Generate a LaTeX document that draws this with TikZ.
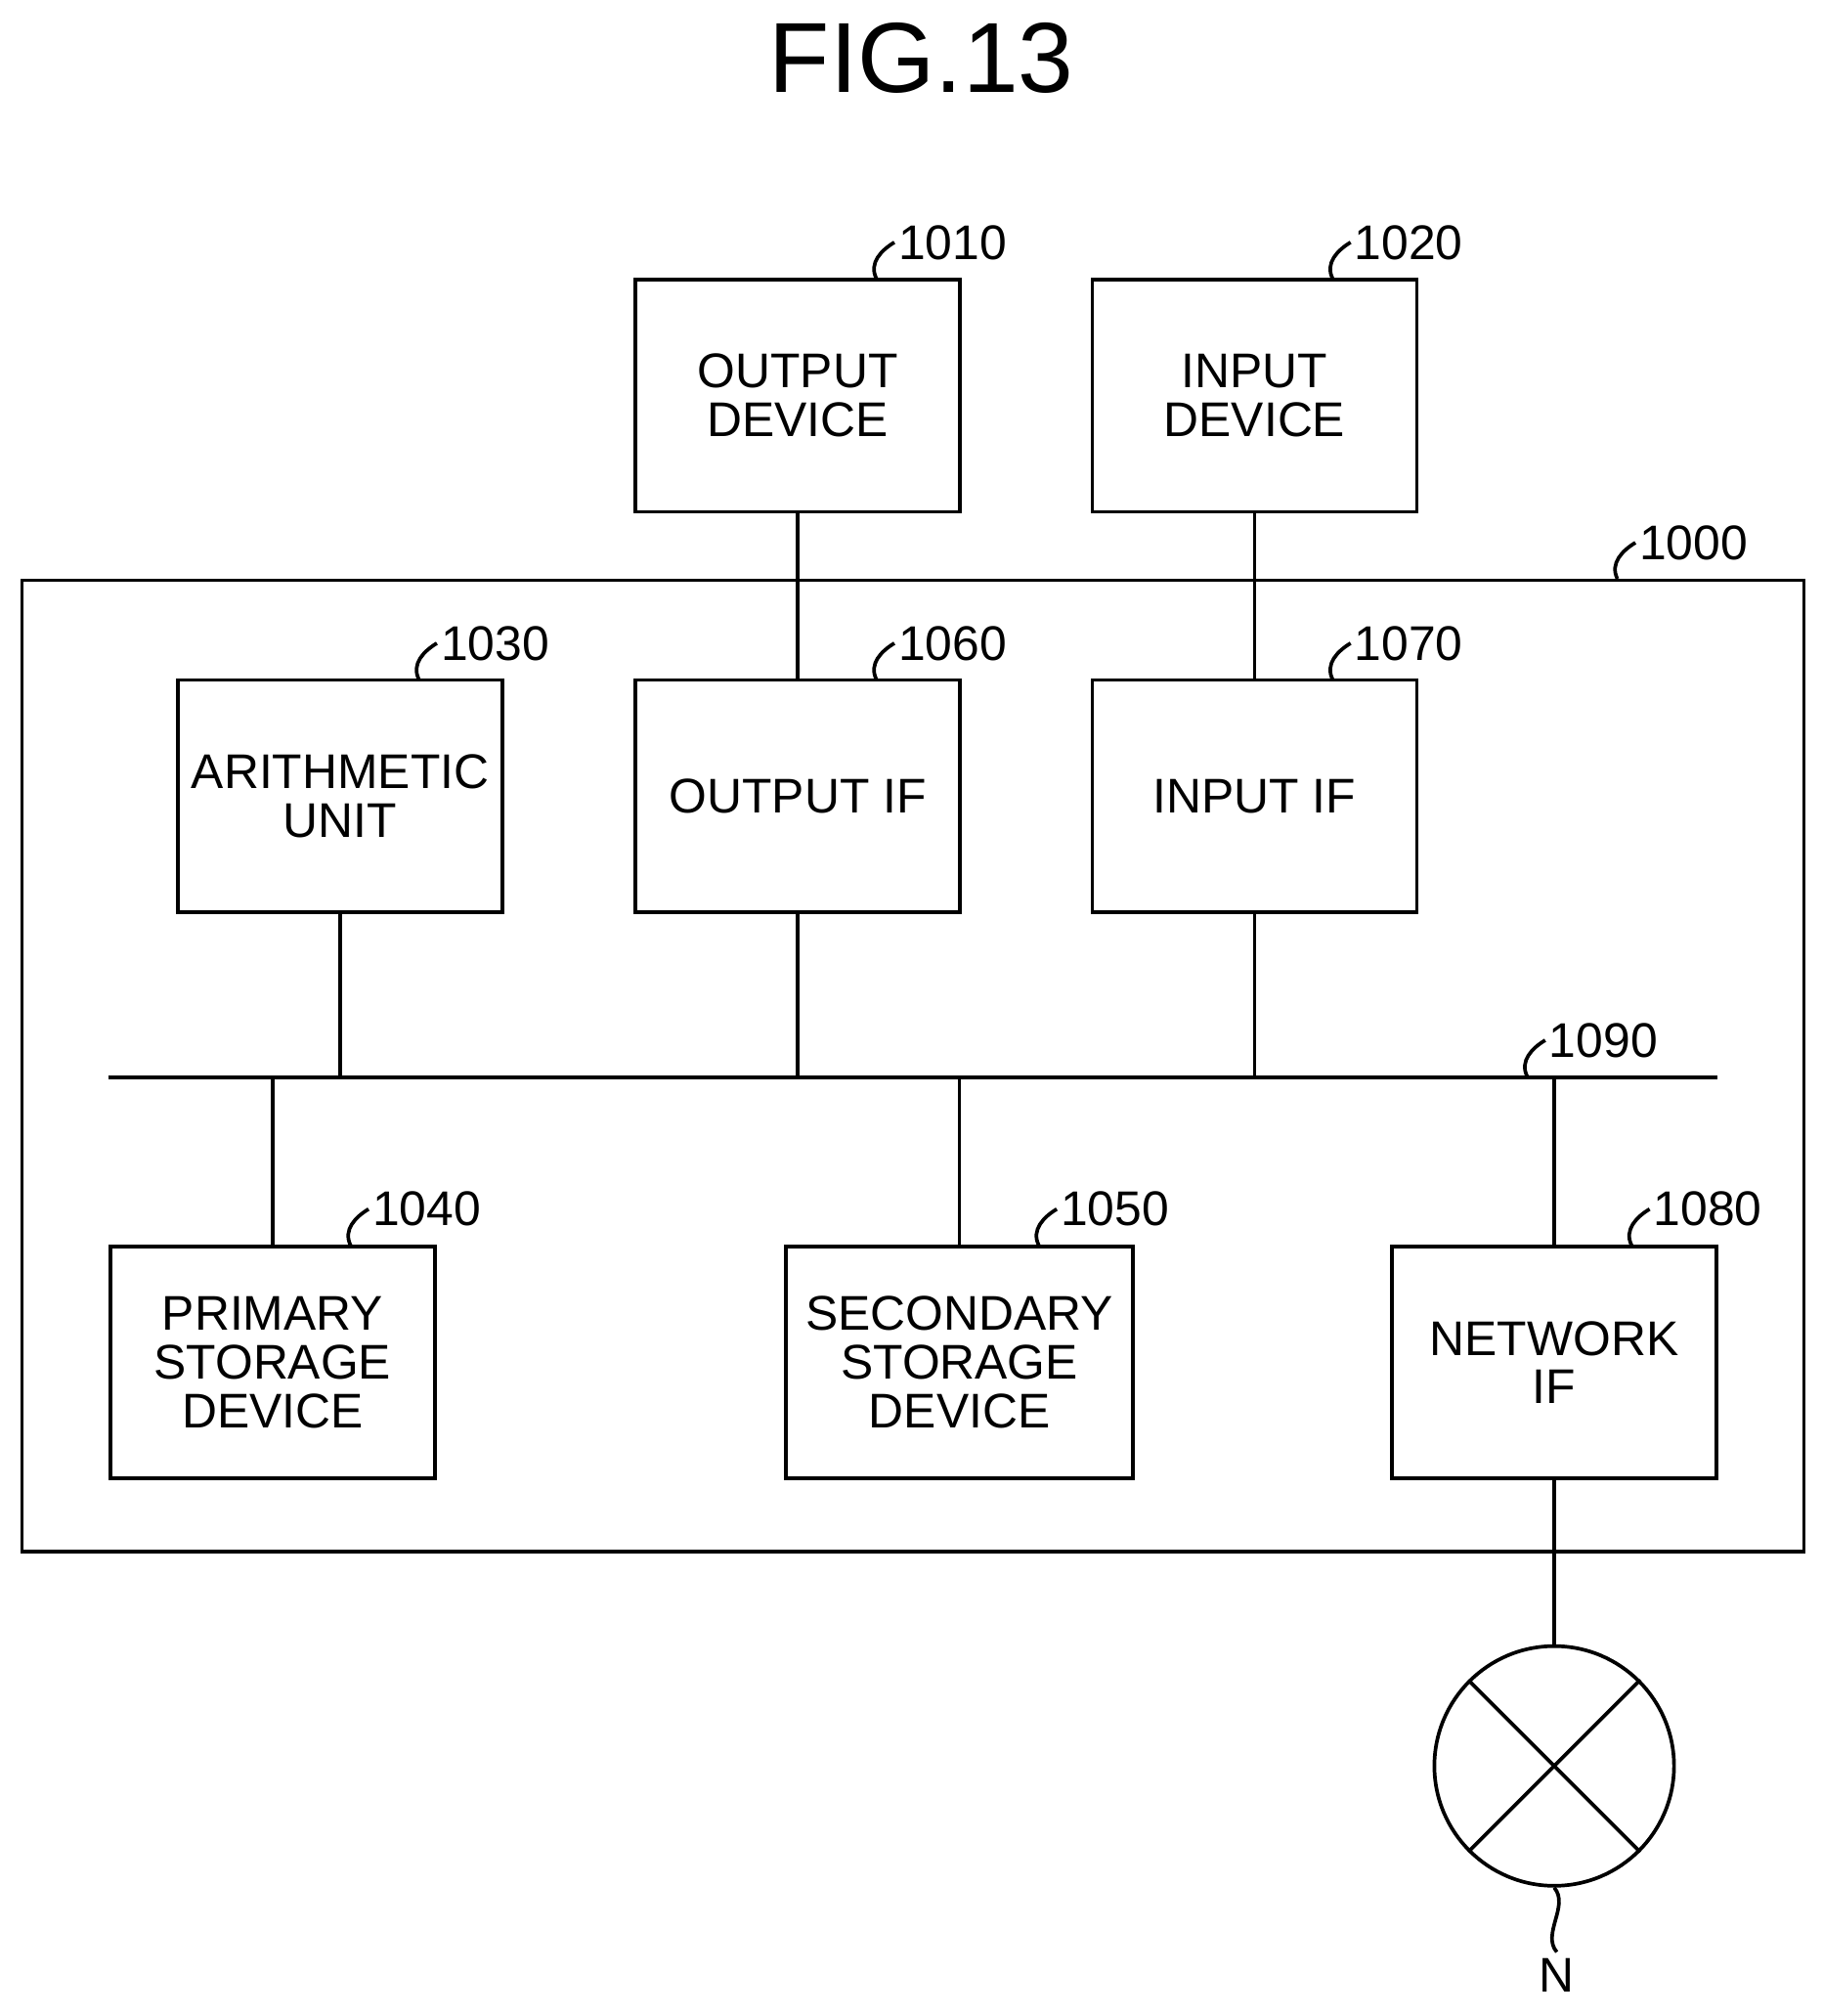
\documentclass[tikz,border=0pt]{standalone}
\usepackage{fontspec}
\setmainfont{Liberation Sans}
\usetikzlibrary{positioning}
\newcommand{\refnum}[2]{\draw (#1) .. controls +(-6,-12) and +(-10,6) .. ++(14,-28) node[anchor=west,inner sep=1pt]{#2};}
\begin{document}
\begin{tikzpicture}[
        x=0.02cm, y=-0.02cm,
        line width=1.6pt,
        every node/.style={font=\fontsize{21.5}{21.5}\selectfont},
        block/.style={draw, line width=1.6pt, minimum width=5.04cm, minimum height=3.6cm, align=center, inner sep=0pt}]
        \useasboundingbox (0,0) rectangle (1414,1564);
        % Title
        \node[font=\fontsize{44}{44}\selectfont] (title) at (715,45) {FIG.13};
        % Outer frame
        \node[draw, line width=1.6pt, minimum width=27.66cm, minimum height=15.08cm, inner sep=0pt] (comp) at (708.5,827) {};
        % Blocks
        \node[block] (outdev) at (619,307) {OUTPUT\\DEVICE};
        \node[block] (indev) at (973.5,307) {INPUT\\DEVICE};
        \node[block] (arith) at (264,617.5) {ARITHMETIC\\UNIT};
        \node[block] (outif) at (619,617.5) {OUTPUT IF};
        \node[block] (inif) at (973.5,617.5) {INPUT IF};
        \node[block] (prim) at (211.5,1057) {PRIMARY\\STORAGE\\DEVICE};
        \node[block, minimum width=5.38cm] (sec) at (744.5,1057) {SECONDARY\\STORAGE\\DEVICE};
        \node[block] (netif) at (1206,1057) {NETWORK\\IF};
        \node[draw, circle, line width=1.6pt, minimum size=3.72cm, inner sep=0pt] (net) at (1206,1370) {};
        % Bus
        \coordinate (busL) at (84,836);
        \coordinate (busR) at (1333,836);
        \draw (busL) -- (busR);
        % Connections
        \draw (outdev) -- (outif);
        \draw (indev) -- (inif);
        \draw (arith.south) -- (arith.south |- busL);
        \draw (outif.south) -- (outif.south |- busL);
        \draw (inif.south) -- (inif.south |- busL);
        \draw (prim.north) -- (prim.north |- busL);
        \draw (sec.north) -- (sec.north |- busL);
        \draw (netif.north) -- (netif.north |- busL);
        \draw (netif) -- (net);
        \draw (net.45) -- (net.225);
        \draw (net.135) -- (net.315);
        % Reference numerals
        \refnum{680,216}{1010}
        \refnum{1034,216}{1020}
        \refnum{1255,449}{1000}
        \refnum{325,527}{1030}
        \refnum{680,527}{1060}
        \refnum{1034,527}{1070}
        \refnum{1185,835}{1090}
        \refnum{272,966}{1040}
        \refnum{806,966}{1050}
        \refnum{1266,966}{1080}
        \draw (net.south) .. controls +(12,14) and +(-12,-14) .. ++(2,50) node[below=2pt, inner sep=0pt] (nlabel) {N};
\end{tikzpicture}
\end{document}
